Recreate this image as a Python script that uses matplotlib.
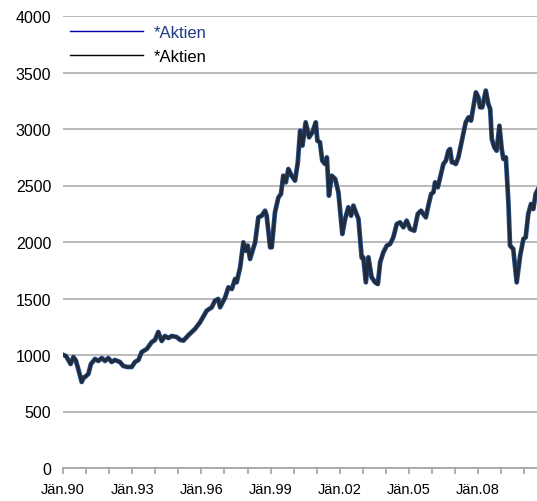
import matplotlib
matplotlib.use('Agg')
import matplotlib.pyplot as plt
from matplotlib.lines import Line2D

# Zeitachse als Dezimaljahre
jahre = [1990.02, 1990.13, 1990.33, 1990.45, 1990.56, 1990.67, 1990.81, 1990.89, 1990.95,
         1991.10, 1991.21, 1991.39, 1991.53, 1991.68, 1991.82, 1991.96, 1992.11, 1992.25,
         1992.47, 1992.61, 1992.78, 1992.98, 1993.12, 1993.27, 1993.41, 1993.63, 1993.85,
         1993.99, 1994.13, 1994.28, 1994.42, 1994.57, 1994.71, 1994.93, 1995.07, 1995.22,
         1995.46, 1995.72, 1995.94, 1996.23, 1996.45, 1996.59, 1996.73, 1996.81, 1997.03,
         1997.17, 1997.32, 1997.46, 1997.53, 1997.68, 1997.82, 1997.92, 1998.01, 1998.11,
         1998.33, 1998.47, 1998.62, 1998.76, 1998.83, 1998.98, 1999.05, 1999.19, 1999.34,
         1999.45, 1999.55, 1999.66, 1999.77, 1999.91, 2000.06, 2000.18, 2000.28, 2000.38,
         2000.52, 2000.67, 2000.81, 2000.96, 2001.03, 2001.14, 2001.24, 2001.36, 2001.44,
         2001.53, 2001.65, 2001.80, 2001.94, 2002.11, 2002.23, 2002.37, 2002.49, 2002.59,
         2002.70, 2002.81, 2002.88, 2002.95, 2003.02, 2003.13, 2003.24, 2003.38, 2003.53,
         2003.65, 2003.75, 2003.89, 2004.04, 2004.18, 2004.32, 2004.47, 2004.61, 2004.76,
         2004.90, 2005.05, 2005.23, 2005.38, 2005.52, 2005.62, 2005.73, 2005.84, 2005.96,
         2006.06, 2006.13, 2006.25, 2006.39, 2006.49, 2006.60, 2006.71, 2006.78, 2006.86,
         2006.93, 2007.03, 2007.14, 2007.32, 2007.46, 2007.58, 2007.69, 2007.90, 2008.01,
         2008.08, 2008.18, 2008.33, 2008.44, 2008.52, 2008.59, 2008.70, 2008.80, 2008.92,
         2009.02, 2009.09, 2009.20, 2009.31, 2009.38, 2009.52, 2009.67, 2009.82, 2009.96,
         2010.06, 2010.17, 2010.29, 2010.39, 2010.49, 2010.60]
aktien = [1000, 991, 920, 982, 950, 870, 761, 800, 805,
          832, 920, 965, 947, 973, 947, 973, 938, 956,
          938, 903, 894, 894, 938, 956, 1026, 1053, 1115,
          1133, 1204, 1124, 1168, 1150, 1168, 1159, 1135, 1127,
          1180, 1230, 1289, 1392, 1422, 1481, 1496, 1422, 1510,
          1599, 1584, 1673, 1643, 1776, 1997, 1923, 1968, 1850,
          1997, 2218, 2233, 2277, 2233, 1953, 1953, 2263, 2395,
          2425, 2587, 2528, 2646, 2587, 2543, 2705, 2985, 2853,
          3059, 2926, 2970, 3059, 2896, 2882, 2720, 2690, 2749,
          2410, 2587, 2558, 2440, 2071, 2204, 2307, 2233, 2322,
          2260, 2204, 2027, 1860, 1865, 1643, 1865, 1688, 1643,
          1628, 1820, 1909, 1968, 1982, 2041, 2159, 2174, 2130,
          2189, 2115, 2100, 2248, 2277, 2248, 2218, 2322, 2425,
          2440, 2528, 2484, 2602, 2690, 2720, 2808, 2823, 2705,
          2705, 2690, 2749, 2926, 3059, 3103, 3074, 3324, 3280,
          3192, 3192, 3340, 3221, 3177, 2912, 2838, 2808, 3029,
          2823, 2735, 2749, 2351, 1968, 1938, 1643, 1879, 2027,
          2041, 2248, 2336, 2292, 2425, 2470]

tick_jahre = list(range(1990, 2011))
tick_labels = ['Jän.%02d' % (j % 100) if (j - 1990) % 3 == 0 else '' for j in tick_jahre]
y_ticks = list(range(0, 4001, 500))

plt.rcParams['font.family'] = ['Liberation Sans', 'DejaVu Sans']

fig = plt.figure(figsize=(5.37, 5.02), dpi=100)
ax = fig.add_axes([63 / 537, 33 / 502, 474 / 537, 452 / 502])

ax.plot(jahre, aktien, color='#24508f', lw=3.4, solid_joinstyle='round', zorder=3)
ax.plot(jahre, aktien, color='#222b3a', lw=2.2, solid_joinstyle='round', zorder=4)

ax.set_xlim(1990, 2010.55)
ax.set_ylim(0, 4000)
ax.set_yticks(y_ticks)
ax.set_xticks(tick_jahre)
ax.set_xticklabels(tick_labels)
ax.yaxis.grid(True, color='#b4b4b4', lw=1.3)
ax.set_axisbelow(True)

for s in ['top', 'right', 'left']:
    ax.spines[s].set_visible(False)
ax.spines['bottom'].set_color('#a8a8a8')
ax.spines['bottom'].set_linewidth(1.3)
ax.tick_params(axis='y', length=0, pad=8.5, labelsize=11.5)
ax.tick_params(axis='x', length=4, width=1.3, color='#a8a8a8', pad=6, labelsize=10.5)

# Legende wie im Original: duenne Linien, erste Beschriftung blau
handles = [Line2D([], [], color='#0000b8', lw=1), Line2D([], [], color='black', lw=1)]
leg = ax.legend(handles, ['*Aktien', '*Aktien'], loc='upper left',
                bbox_to_anchor=(70 / 537, 476 / 502), bbox_transform=fig.transFigure,
                frameon=False, fontsize=12, borderpad=0, borderaxespad=0,
                handlelength=4.4, handletextpad=0.6, labelspacing=0.55)
leg.get_texts()[0].set_color('#1f3c88')

fig.savefig('out.png', dpi=100)
